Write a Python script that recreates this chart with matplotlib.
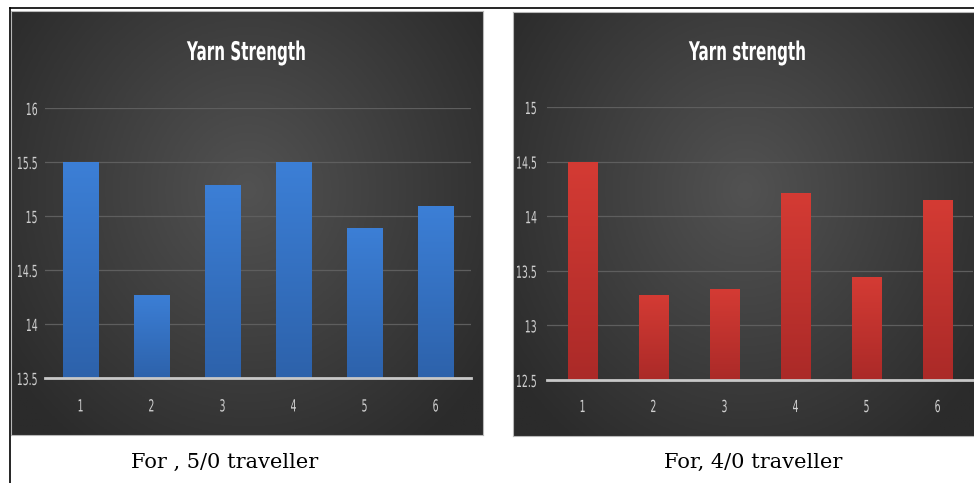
import numpy as np
import matplotlib
matplotlib.use("Agg")
import matplotlib.pyplot as plt
from matplotlib.lines import Line2D
from matplotlib.colors import LinearSegmentedColormap
from matplotlib.patheffects import AbstractPathEffect
from matplotlib.transforms import Affine2D

# ---- data -------------------------------------------------------------
categories = ["1", "2", "3", "4", "5", "6"]

strength_5_0 = [15.5, 14.27, 15.29, 15.5, 14.89, 15.09]
strength_4_0 = [14.5, 13.28, 13.33, 14.21, 13.44, 14.15]

yticks_5_0 = [13.5, 14, 14.5, 15, 15.5, 16]
yticks_4_0 = [12.5, 13, 13.5, 14, 14.5, 15]

title_5_0 = "Yarn Strength"
title_4_0 = "Yarn strength"
caption_5_0 = "For , 5/0 traveller"
caption_4_0 = "For, 4/0 traveller"

# ---- figure -----------------------------------------------------------
W, H = 974, 483
fig = plt.figure(figsize=(W / 100, H / 100), dpi=100)
fig.patch.set_facecolor("white")

SANS = ["DejaVu Sans"]
SERIF = ["DejaVu Serif"]


class Condensed(AbstractPathEffect):
    """Draw text glyphs narrower, keeping the centre (or right edge) fixed."""

    def __init__(self, sx, anchor="center"):
        super().__init__()
        self.sx = sx
        self.anchor = anchor

    def draw_path(self, renderer, gc, tpath, affine, rgbFace=None):
        ext = tpath.get_extents()
        ax0 = ext.x1 if self.anchor == "right" else 0.5 * (ext.x0 + ext.x1)
        t = Affine2D().translate(-ax0, 0).scale(self.sx, 1).translate(ax0, 0) + affine
        renderer.draw_path(gc, tpath, t, rgbFace)


def rect(x0, y0, x1, y1):
    """Pixel box (top-left origin) -> figure fraction rect."""
    return [x0 / W, 1 - y1 / H, (x1 - x0) / W, (y1 - y0) / H]


def panel_background(box):
    ax = fig.add_axes(rect(*box))
    ny, nx = 200, 300
    yy, xx = np.mgrid[0:ny, 0:nx]
    cx, cy = nx * 0.5, ny * 0.42
    r = np.sqrt(((xx - cx) / (nx * 0.62)) ** 2 + ((yy - cy) / (ny * 0.75)) ** 2)
    r = np.clip(r, 0, 1)
    cmap = LinearSegmentedColormap.from_list("bg", ["#525252", "#2b2b2b"])
    ax.imshow(r, cmap=cmap, extent=[0, 1, 0, 1], aspect="auto", vmin=0, vmax=1)
    ax.set_xticks([])
    ax.set_yticks([])
    for s in ax.spines.values():
        s.set_color("#b8b8b8")
        s.set_linewidth(0.8)
    return ax


def bar_panel(box, values, yticks, width, top_col, bot_col, ypad, xpad):
    ax = fig.add_axes(rect(*box))
    ax.patch.set_alpha(0)
    x = np.arange(len(categories))
    base = yticks[0]
    heights = [v - base for v in values]
    bars = ax.bar(x, heights, bottom=base, width=width, color=top_col, zorder=3)
    grad = LinearSegmentedColormap.from_list("g", [bot_col, top_col])
    ramp = np.linspace(0, 1, 100).reshape(-1, 1)
    for b in bars:
        x0, w = b.get_x(), b.get_width()
        y0, h = b.get_y(), b.get_height()
        im = ax.imshow(ramp, cmap=grad, origin="lower", aspect="auto",
                       extent=[x0, x0 + w, y0, y0 + h], zorder=4)
        im.set_clip_path(b)
    ax.set_xlim(-0.5, len(categories) - 0.5)
    ax.set_ylim(yticks[0], yticks[-1])
    ax.set_xticks(x)
    ax.set_xticklabels(categories)
    ax.set_yticks(yticks)
    ax.set_yticklabels([f"{t:g}" for t in yticks])
    ax.yaxis.grid(True, color="#5e5e5e", linewidth=0.9, zorder=1)
    ax.set_axisbelow(True)
    for side in ("top", "right", "left"):
        ax.spines[side].set_visible(False)
    ax.spines["bottom"].set_color("#c8c8c8")
    ax.spines["bottom"].set_linewidth(2)
    ax.spines["bottom"].set_zorder(5)
    ax.tick_params(axis="both", length=0, colors="#cfcfcf", labelsize=12)
    ax.tick_params(axis="y", pad=ypad)
    ax.tick_params(axis="x", pad=xpad)
    for lab in ax.get_xticklabels():
        lab.set_family(SANS)
        lab.set_path_effects([Condensed(0.56, "center")])
    for lab in ax.get_yticklabels():
        lab.set_family(SANS)
        lab.set_path_effects([Condensed(0.56, "right")])
    return ax


def title(xc, text):
    t = fig.text(xc / W, 1 - 53 / H, text, ha="center", va="center",
                 color="white", fontsize=18.5, fontweight="bold", family=SANS)
    t.set_path_effects([Condensed(0.59, "center")])


# left chart: 5/0 traveller
panel_background((11, 11, 483, 435))
bar_panel((45, 108, 471, 378), strength_5_0, yticks_5_0, 0.5,
          "#3c7fd6", "#2d62ab", ypad=5, xpad=14)
title(247, title_5_0)
fig.text(225 / W, 1 - 462 / H, caption_5_0, ha="center", va="center",
         color="black", fontsize=15, family=SERIF)

# right chart: 4/0 traveller
panel_background((513, 12, 976, 436))
bar_panel((547, 107, 973, 380), strength_4_0, yticks_4_0, 0.41,
          "#d43b34", "#ab2a28", ypad=7, xpad=13)
title(748, title_4_0)
fig.text(753 / W, 1 - 462 / H, caption_4_0, ha="center", va="center",
         color="black", fontsize=15, family=SERIF)

# outer frame (top and left rules)
fig.add_artist(Line2D([9.5 / W, 1], [1 - 7.5 / H, 1 - 7.5 / H],
                      color="black", linewidth=1.2))
fig.add_artist(Line2D([9.5 / W, 9.5 / W], [1 - 7.5 / H, 0],
                      color="black", linewidth=1.2))

fig.savefig("out.png", dpi=100, facecolor="white")
